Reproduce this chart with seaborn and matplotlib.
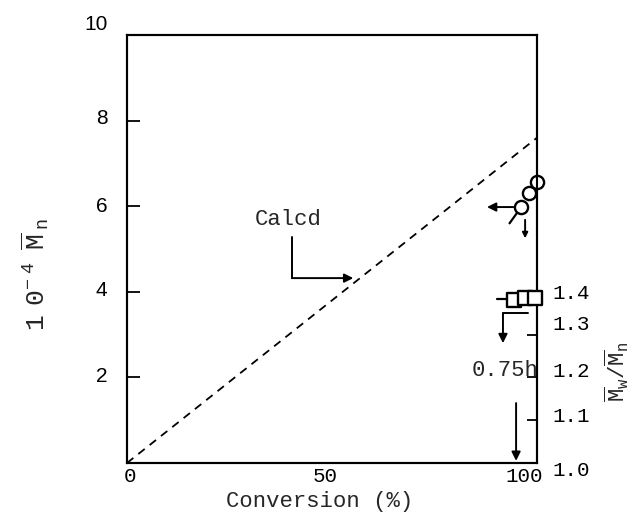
import matplotlib
matplotlib.use('Agg')
import matplotlib.pyplot as plt
import matplotlib.transforms as mtransforms
import seaborn as sns
import pandas as pd
from matplotlib.lines import Line2D

# ---- data ----
conv_calc = [0, 100]
mn_calc = [0, 7.6]
conv_obs = [96, 98, 100]
mn_obs = [5.98, 6.31, 6.57]
conv_pdi = [94.5, 97, 99.5]
pdi_obs = [1.38, 1.385, 1.385]
x_ticks = [0, 50, 100]
y_ticks = [2, 4, 6, 8, 10]
pdi_ticks = [1.0, 1.1, 1.2, 1.3, 1.4]

sns.set_theme(style='white')
plt.rcParams['font.family'] = ['Liberation Mono', 'DejaVu Sans']
plt.rcParams['mathtext.fontset'] = 'custom'
plt.rcParams['mathtext.rm'] = 'Liberation Sans'
plt.rcParams['mathtext.it'] = 'Liberation Sans'
plt.rcParams['mathtext.bf'] = 'Liberation Sans'

fig = plt.figure(figsize=(6.36, 5.14), dpi=100)
fig.patch.set_facecolor('white')
ax = fig.add_axes([127/636, 1-463/514, (537-127)/636, (463-35)/514])
ax.set_facecolor('white')

df_calc = pd.DataFrame({'conv': conv_calc, 'mn': mn_calc})
sns.lineplot(data=df_calc, x='conv', y='mn', ax=ax, color='black', lw=1.3)
ax.lines[-1].set_linestyle((0, (4.5, 3.5)))

df_obs = pd.DataFrame({'conv': conv_obs, 'mn': mn_obs})
sns.scatterplot(data=df_obs, x='conv', y='mn', ax=ax, marker='o', s=90,
                color='white', edgecolor='black', linewidth=1.7,
                clip_on=False, zorder=5)

ax.set_xlim(0, 100)
ax.set_ylim(0, 10)
ax.set_xticks(x_ticks)
ax.set_xticklabels([str(t) for t in x_ticks])
ax.set_yticks(y_ticks)
ax.set_yticklabels([str(t) for t in y_ticks], family=['Liberation Sans', 'DejaVu Sans'])
ax.set_xlabel('')
ax.set_ylabel('')
ax.tick_params(axis='x', direction='in', length=11.5, width=1.3, labelsize=15,
               pad=3, colors='black')
ax.tick_params(axis='y', direction='in', length=9.5, width=1.3, labelsize=15,
               pad=14, colors='black')
for sp in ax.spines.values():
    sp.set_color('black')
    sp.set_linewidth(1.5)

ax2 = ax.twinx()
df_pdi = pd.DataFrame({'conv': conv_pdi, 'pdi': pdi_obs})
sns.scatterplot(data=df_pdi, x='conv', y='pdi', ax=ax2, marker='s', s=95,
                color='white', edgecolor='black', linewidth=1.7,
                clip_on=False, zorder=5)
ax2.set_ylim(1.0, 2.0)
ax2.set_yticks(pdi_ticks)
ax2.set_yticklabels([f'{t:.1f}' for t in pdi_ticks])
ax2.set_ylabel('')
ax2.tick_params(axis='y', direction='in', length=7, width=1.3, labelsize=15,
                pad=11, colors='black')
for sp in ax2.spines.values():
    sp.set_color('black')
    sp.set_linewidth(1.5)


def shift_labels(ticks, offsets):
    for tk, (dx, dy) in zip(ticks, offsets):
        off = mtransforms.ScaledTranslation(dx / 100, dy / 100, fig.dpi_scale_trans)
        tk.label1.set_transform(tk.label1.get_transform() + off)
        tk.label2.set_transform(tk.label2.get_transform() + off)


shift_labels(ax.xaxis.get_major_ticks(), [(3, 0), (-7, 0), (-13, 0)])
shift_labels(ax.yaxis.get_major_ticks(), [(0, 3), (0, 3), (0, 2), (0, 4), (0, 12)])
shift_labels(ax2.yaxis.get_major_ticks(), [(0, -5), (0, 6), (0, 8), (0, 12), (0, 0)])

# axis titles
fig.text(320/636, 1-502/514, 'Conversion (%)', ha='center', va='center', fontsize=16)
fig.text(35/636, 1-275/514,
         r'$\mathregular{1\;\,0^{-\;4}\;\;\overline{M}_{\;n}}$',
         rotation=90, ha='center', va='center', fontsize=19)
fig.text(617/636, 1-372/514, r'$\mathregular{\overline{M}_w/\overline{M}_n}$', rotation=90,
         ha='center', va='center', fontsize=16)

# annotations
arw = dict(arrowstyle='-|>', color='black', lw=1.4, mutation_scale=13,
           shrinkA=0, shrinkB=0)
ax.text(39.3, 5.70, 'Calcd', ha='center', va='center', fontsize=16)
ax.add_line(Line2D([40.2, 40.2], [5.28, 4.32], color='black', lw=1.4))
ax.annotate('', xy=(55.2, 4.32), xytext=(40.2, 4.32), arrowprops=arw)

# circles leaders
ax.annotate('', xy=(87.8, 5.98), xytext=(94.2, 5.98), arrowprops=arw)
ax.add_line(Line2D([95.1, 93.3], [5.84, 5.60], color='black', lw=1.6))
ax.annotate('', xy=(97.1, 5.25), xytext=(97.1, 5.68),
            arrowprops=dict(arw, mutation_scale=8))

# squares leaders
ax.add_line(Line2D([90.2, 92.9], [3.83, 3.83], color='black', lw=1.6))
ax.add_line(Line2D([91.7, 97.8], [3.50, 3.50], color='black', lw=1.4))
ax.annotate('', xy=(91.7, 2.80), xytext=(91.7, 3.50), arrowprops=arw)

# 0.75h marker
ax.text(100.3, 2.17, '0.75h', ha='right', va='center', fontsize=16)
ax.annotate('', xy=(94.9, 0.05), xytext=(94.9, 1.40), arrowprops=arw)

fig.savefig('out.png', dpi=100, facecolor='white')
